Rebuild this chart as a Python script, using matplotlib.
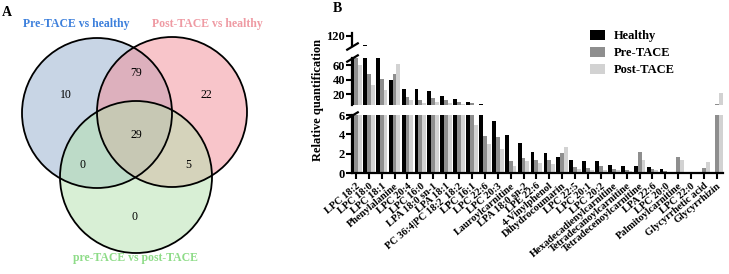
import numpy as np
import matplotlib.pyplot as plt
from matplotlib.patches import Circle, Patch

plt.rcParams['font.family'] = ['Liberation Serif', 'DejaVu Serif']

# ---- data ----
venn_counts = [10, 79, 22, 29, 0, 5, 0]   # A, A&B, B, A&B&C, A&C, B&C, C
venn_names = ['Pre-TACE vs healthy', 'Post-TACE vs healthy', 'pre-TACE vs post-TACE']

metabolites = ['LPC 18:2', 'LPC 18:0', 'LPC 18:1', 'Phenylalanine', 'LPC 20:4', 'LPC 16:0',
               'LPA 18:0 sn-1', 'LPA 18:1', 'PC 36:4|PC 18:2_18:2', 'LPC 16:1', 'LPC 22:6',
               'LPC 20:3', 'Lauroylcarnitine', 'LPA 18:0 sn-2', 'LPE 22:6', '4-Vinylphenol',
               'Dihydrocoumarin', 'LPC 22:5', 'LPC 20:1', 'LPC 20:2', 'Hexadecadienylcarnitine',
               'Tetradecanoylcarnitine', 'Tetradecenoylcarnitine', 'LPA 22:6', 'LPC 20:0',
               'Palmitoylcarnitine', 'LPC 22:0', 'Glycyrrhetic acid', 'Glycyrrhizin']
healthy = [85, 108, 70, 40.2, 27.8, 27.8, 24.1, 17.2, 13.5, 9.4, 6.3, 5.4, 3.9, 3.06,
           2.19, 2.12, 1.67, 1.32, 1.25, 1.22, 0.8, 0.77, 0.7, 0.63, 0.39, 0.04, 0.02, 0.02, 0.02]
pre_tace = [78, 47.6, 40.7, 48.5, 15.4, 11.7, 14.0, 11.7, 9.0, 7.4, 3.85, 3.75, 1.22, 1.6,
            1.39, 1.39, 2.12, 0.63, 0.56, 0.7, 0.45, 0.3, 2.19, 0.45, 0.2, 1.67, 0.02, 0.53, 7.0]
post_tace = [60, 32.4, 25.5, 61.4, 11.7, 8.0, 9.4, 8.0, 6.2, 5.0, 3.0, 2.5, 0.73, 1.25,
             1.04, 0.9, 2.71, 0.39, 0.3, 0.35, 0.3, 0.25, 1.39, 0.35, 0.1, 1.32, 0.02, 1.15, 21]
series_names = ['Healthy', 'Pre-TACE', 'Post-TACE']
series_colors = ['#000000', '#8e8e8e', '#d2d2d2']

W, H = 729, 274
fig = plt.figure(figsize=(W / 100, H / 100), dpi=100)

# ---- panel A: Venn ----
axA = fig.add_axes([0, 0, 260 / W, 1])
axA.set_xlim(0, 260)
axA.set_ylim(H, 0)
axA.axis('off')
circles = [((97, 113), 75, '#93adcd'), ((172, 112), 75, '#f38d97'), ((136, 177), 76, '#b3e1ad')]
for (c, r, col) in circles:
    axA.add_patch(Circle(c, r, facecolor=col, alpha=0.5, edgecolor='none'))
for (c, r, col) in circles:
    axA.add_patch(Circle(c, r, facecolor='none', edgecolor='black', lw=1.3))
venn_pos = [(66, 95), (136, 73), (206, 95), (136, 135), (83, 165), (188, 165), (135, 217)]
for (x, y), n in zip(venn_pos, venn_counts):
    axA.text(x, y, str(n), ha='center', va='center', fontsize=8.5)
axA.text(76, 24, venn_names[0], color='#3d80dc', fontsize=8.5, fontweight='bold', ha='center', va='center')
axA.text(207, 24, venn_names[1], color='#ef9aa3', fontsize=8.5, fontweight='bold', ha='center', va='center')
axA.text(135, 258, venn_names[2], color='#8edc88', fontsize=8.5, fontweight='bold', ha='center', va='center')
axA.text(7, 12, 'A', fontsize=10, fontweight='bold', ha='center', va='center')

# ---- panel B: broken-axis grouped bars ----
left = 352 / W
width = (723.4 - 352) / W
ax_bot = fig.add_axes([left, 1 - 173 / H, width, 58 / H])
ax_mid = fig.add_axes([left, 1 - 105 / H, width, 47 / H])
ax_top = fig.add_axes([left, 1 - 46 / H, width, 13 / H])

x = np.arange(len(metabolites))
bw = 0.3
for ax in (ax_bot, ax_mid, ax_top):
    for k, vals in enumerate([healthy, pre_tace, post_tace]):
        ax.bar(x + (k - 1) * bw, vals, bw, color=series_colors[k], label=series_names[k])
    ax.set_xlim(-0.3, len(metabolites) - 0.5)
    for s in ('top', 'right'):
        ax.spines[s].set_visible(False)
    ax.spines['left'].set_linewidth(1.6)
    ax.tick_params(axis='y', direction='out', length=4, width=1.5, labelsize=9, pad=1)

ax_bot.set_ylim(0, 6)
ax_bot.set_yticks([0, 2, 4, 6])
ax_mid.set_ylim(5, 70)
ax_mid.set_yticks([20, 40, 60])
ax_top.set_ylim(106, 124)
ax_top.set_yticks([120])
for ax in (ax_bot, ax_mid, ax_top):
    for lab in ax.get_yticklabels():
        lab.set_fontweight('bold')

for ax in (ax_mid, ax_top):
    ax.spines['bottom'].set_visible(False)
    ax.set_xticks([])

ax_bot.spines['bottom'].set_linewidth(1.6)
ax_bot.set_xticks(x)
ax_bot.set_xticklabels(metabolites, rotation=40, ha='right', rotation_mode='anchor',
                       fontsize=7.5, fontweight='bold')
ax_bot.tick_params(axis='x', direction='out', length=4, width=1.5, pad=2)

# break marks on the y-axis
brk = dict(marker=[(-1, -0.6), (1, 0.6)], markersize=9, linestyle='none',
           color='k', mec='k', mew=1.6, clip_on=False)
ax_bot.plot([0], [1], transform=ax_bot.transAxes, **brk)
ax_mid.plot([0], [1], transform=ax_mid.transAxes, **brk)
ax_top.plot([0], [0], transform=ax_top.transAxes, **brk)

fig.text(318 / W, 1 - 100 / H, 'Relative quantification', rotation=90, ha='center', va='center',
         fontsize=9, fontweight='bold')
fig.text(337 / W, 1 - 9 / H, 'B', fontsize=10, fontweight='bold', ha='center', va='center')

handles = [Patch(facecolor=c, edgecolor='none') for c in series_colors]
leg = fig.legend(handles, series_names, loc='upper left', bbox_to_anchor=(590 / W, 1 - 30 / H),
                 frameon=False, fontsize=9, handlelength=1.2, handleheight=0.8,
                 handletextpad=0.7, labelspacing=0.4, borderaxespad=0, borderpad=0)
for t in leg.get_texts():
    t.set_fontweight('bold')

plt.savefig('out.png', dpi=100)
